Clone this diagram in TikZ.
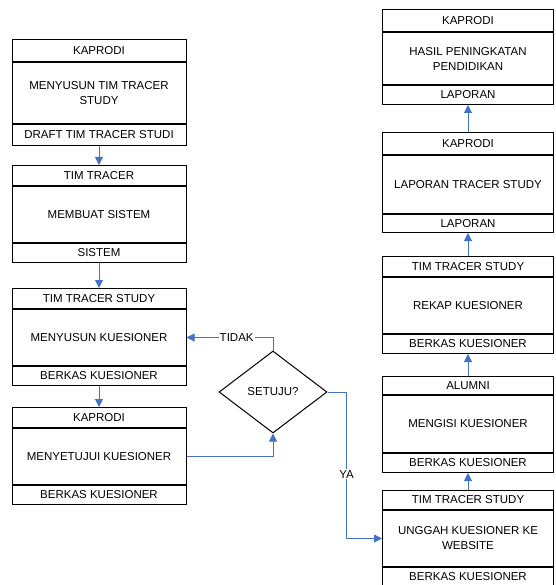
\documentclass[tikz,border=0pt]{standalone}
\usepackage{fontspec}
\setmainfont{Liberation Sans}
\usetikzlibrary{arrows.meta,positioning,shapes.geometric}
\definecolor{flowblue}{HTML}{4472C4}
\tikzset{
  lane/.style       = {draw, rectangle, line width=1pt, inner sep=1pt, align=center},
  left lane/.style  = {lane, minimum width=174},
  right lane/.style = {lane, minimum width=171},
  head/.style       = {minimum height=20},
  act/.style        = {minimum height=56},
  doc/.style        = {minimum height=19},
  decision/.style   = {draw, diamond, line width=1pt, inner sep=0pt, minimum width=108, minimum height=82},
  flow/.style       = {-{Triangle[length=8pt,width=8pt]}, draw=flowblue, line width=1pt},
  answer/.style     = {fill=white, inner sep=1pt}
}

\begin{document}
\begin{tikzpicture}[x=1pt, y=-1pt, font=\fontsize{11.5}{15}\selectfont]
  \useasboundingbox (0,0) rectangle (555,585);

  % left column
  \node[left lane, head, anchor=north, minimum height=22] (l1head) at (99,39) {KAPRODI};
  \node[left lane, act, below=0pt of l1head, minimum height=61] (l1act) {MENYUSUN TIM TRACER\\STUDY};
  \node[left lane, doc, below=0pt of l1act, minimum height=21] (l1doc) {DRAFT TIM TRACER STUDI};

  \node[left lane, head, anchor=north] (l2head) at (99,165) {TIM TRACER};
  \node[left lane, act, below=0pt of l2head] (l2act) {MEMBUAT SISTEM};
  \node[left lane, doc, below=0pt of l2act] (l2doc) {SISTEM};

  \node[left lane, head, anchor=north] (l3head) at (99,288) {TIM TRACER STUDY};
  \node[left lane, act, below=0pt of l3head] (l3act) {MENYUSUN KUESIONER};
  \node[left lane, doc, below=0pt of l3act] (l3doc) {BERKAS KUESIONER};

  \node[left lane, head, anchor=north] (l4head) at (99,407) {KAPRODI};
  \node[left lane, act, below=0pt of l4head] (l4act) {MENYETUJUI KUESIONER};
  \node[left lane, doc, below=0pt of l4act] (l4doc) {BERKAS KUESIONER};

  % decision
  \node[decision] (setuju) at (273,392) {SETUJU?};

  % right column
  \node[right lane, head, anchor=north, minimum height=22] (r1head) at (468,9) {KAPRODI};
  \node[right lane, act, below=0pt of r1head, minimum height=52] (r1act) {HASIL PENINGKATAN\\PENDIDIKAN};
  \node[right lane, doc, below=0pt of r1act] (r1doc) {LAPORAN};

  \node[right lane, head, anchor=north, minimum height=22] (r2head) at (468,132) {KAPRODI};
  \node[right lane, act, below=0pt of r2head, minimum height=58] (r2act) {LAPORAN TRACER STUDY};
  \node[right lane, doc, below=0pt of r2act, minimum height=18] (r2doc) {LAPORAN};

  \node[right lane, head, anchor=north] (r3head) at (468,256) {TIM TRACER STUDY};
  \node[right lane, act, below=0pt of r3head] (r3act) {REKAP KUESIONER};
  \node[right lane, doc, below=0pt of r3act] (r3doc) {BERKAS KUESIONER};

  \node[right lane, head, anchor=north, minimum height=18] (r4head) at (468,376) {ALUMNI};
  \node[right lane, act, below=0pt of r4head, minimum height=57] (r4act) {MENGISI KUESIONER};
  \node[right lane, doc, below=0pt of r4act] (r4doc) {BERKAS KUESIONER};

  \node[right lane, head, anchor=north, minimum height=19] (r5head) at (468,490) {TIM TRACER STUDY};
  \node[right lane, act, below=0pt of r5head] (r5act) {UNGGAH KUESIONER KE\\WEBSITE};
  \node[right lane, doc, below=0pt of r5act, minimum height=18] (r5doc) {BERKAS KUESIONER};

  % connectors
  \draw[flow] (l1doc) -- (l2head);
  \draw[flow] (l2doc) -- (l3head);
  \draw[flow] (l3doc) -- (l4head);
  \draw[flow] (l4act.east) -| (setuju.south);
  \draw[flow] (setuju.north) |- node[answer, pos=0.71] {TIDAK} (l3act.east);
  \draw[flow] (setuju.east) -- ++(19,0) |- node[answer, pos=0.28] {YA} (r5act.west);
  \draw[flow] (r5head) -- (r4doc);
  \draw[flow] (r4head) -- (r3doc);
  \draw[flow] (r3head) -- (r2doc);
  \draw[flow] (r2head) -- (r1doc);
\end{tikzpicture}
\end{document}
